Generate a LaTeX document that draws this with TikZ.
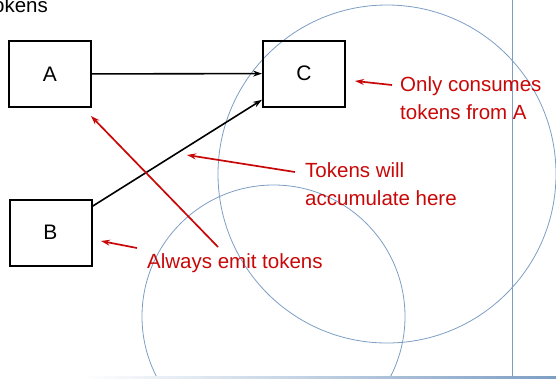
\documentclass[tikz,border=0pt]{standalone}
\usepackage{fontspec}
\setmainfont{Liberation Sans}
\usetikzlibrary{arrows.meta}
\definecolor{notered}{RGB}{200,8,8}
\definecolor{guideblue}{RGB}{125,158,196}
\tikzset{
    block/.style={draw, line width=2pt, minimum width=82pt, minimum height=66pt, font=\fontsize{21}{25}\selectfont},
    flow/.style={-{Stealth[length=9pt, width=6pt]}, line width=1.6pt},
    note/.style={-{Stealth[length=9pt, width=6pt]}, line width=1.7pt, notered},
    notetext/.style={inner sep=0pt, text=notered, align=left, font=\fontsize{20.5}{28}\selectfont},
    guide/.style={guideblue, line width=0.8pt},
}

\begin{document}
\begin{tikzpicture}[x=1pt, y=-1pt]
        \clip (0, 0) rectangle (556, 378);

        % guide circles and edges
        \draw[guide] (387, 174) circle (169);
        \draw[guide] (273.5, 316.5) circle (131.5);
        \draw[guide] (512, 0) -- (512, 377);
        \shade[left color=white, right color=guideblue] (82, 376.2) rectangle (556, 378);

        \node[inner sep=0pt, anchor=base east, font=\fontsize{20.5}{25}\selectfont] (title) at (48, 12) {Tokens};

        \node[block] (A) at (50, 74) {A};
        \node[block] (C) at (304, 73.5) {C};
        \node[block] (B) at (50.5, 232.5) {B};

        \draw[flow] (A) -- (C);
        \draw[flow] (B) -- (C);

        \node[notetext, anchor=north west] (only) at (400, 76) {Only consumes\\tokens from A};
        \node[notetext, anchor=north west] (accum) at (305, 162) {Tokens will\\accumulate here};
        \node[notetext, anchor=base west] (emit) at (147, 268) {Always emit tokens};

        \coordinate (onlytail) at (392, 85);
        \coordinate (onlyhead) at (355, 81);
        \coordinate (accumtail) at (295, 172);
        \coordinate (accumhead) at (187, 155);
        \coordinate (emittail) at (137, 248);
        \coordinate (emithead) at (101, 241);
        \coordinate (emitlong) at (218, 247);
        \coordinate (emitA) at (91, 116);

        \draw[note] (onlytail) -- (onlyhead);
        \draw[note] (accumtail) -- (accumhead);
        \draw[note] (emittail) -- (emithead);
        \draw[note] (emitlong) -- (emitA);
\end{tikzpicture}
\end{document}
